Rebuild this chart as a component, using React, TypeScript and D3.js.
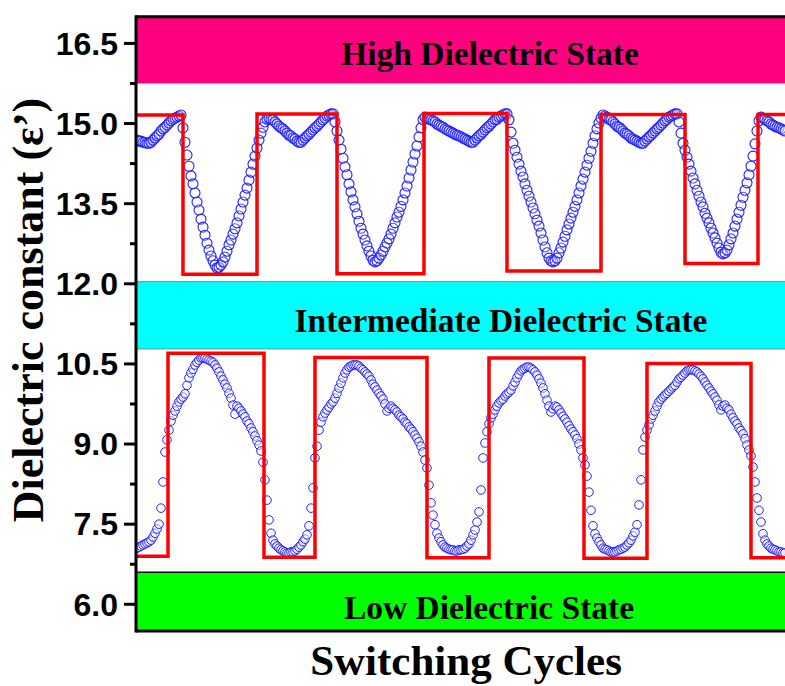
import React from 'react';
import * as d3 from 'd3';

// ---------- data ----------
const yTickValues = [6.0, 7.5, 9.0, 10.5, 12.0, 13.5, 15.0, 16.5];
const yMinorTickValues = [6.75, 8.25, 9.75, 11.25, 12.75, 14.25, 15.75];

// measured dielectric constant, uniformly sampled (sample index = time)
const highState = [
  14.69, 14.67, 14.67, 14.65, 14.65, 14.63, 14.63, 14.65, 14.69, 14.73,
  14.77, 14.80, 14.86, 14.90, 14.93, 14.97, 15.01, 15.05, 15.08, 15.10,
  15.12, 15.14, 15.16, 14.92, 14.65, 14.41, 14.20, 14.02, 13.87, 13.70,
  13.53, 13.38, 13.21, 13.06, 12.91, 12.76, 12.63, 12.52, 12.43, 12.35,
  12.30, 12.31, 12.35, 12.41, 12.50, 12.61, 12.73, 12.82, 12.93, 13.03,
  13.14, 13.27, 13.40, 13.53, 13.66, 13.79, 13.94, 14.09, 14.24, 14.39,
  14.54, 14.69, 14.82, 14.93, 15.03, 15.08, 15.10, 15.08, 15.07, 15.03,
  14.99, 14.95, 14.92, 14.90, 14.86, 14.82, 14.78, 14.77, 14.73, 14.71,
  14.67, 14.65, 14.65, 14.69, 14.73, 14.77, 14.80, 14.84, 14.88, 14.92,
  14.95, 14.99, 15.03, 15.07, 15.10, 15.14, 15.16, 15.18, 15.18, 15.03,
  14.86, 14.69, 14.52, 14.35, 14.19, 14.04, 13.87, 13.72, 13.57, 13.44,
  13.31, 13.17, 13.04, 12.93, 12.82, 12.71, 12.61, 12.52, 12.44, 12.41,
  12.43, 12.48, 12.54, 12.61, 12.69, 12.76, 12.84, 12.93, 13.04, 13.14,
  13.25, 13.34, 13.45, 13.57, 13.70, 13.83, 13.98, 14.13, 14.28, 14.43,
  14.58, 14.75, 14.92, 15.07, 15.12, 15.10, 15.08, 15.07, 15.05, 15.03,
  14.99, 14.97, 14.95, 14.93, 14.90, 14.88, 14.86, 14.84, 14.82, 14.80,
  14.78, 14.77, 14.75, 14.73, 14.71, 14.69, 14.67, 14.65, 14.65, 14.69,
  14.73, 14.77, 14.80, 14.84, 14.88, 14.92, 14.95, 14.99, 15.03, 15.07,
  15.08, 15.12, 15.14, 15.16, 15.18, 15.18, 15.07, 14.84, 14.63, 14.50,
  14.37, 14.24, 14.11, 14.00, 13.87, 13.75, 13.64, 13.53, 13.42, 13.31,
  13.19, 13.08, 12.95, 12.82, 12.69, 12.58, 12.48, 12.43, 12.41, 12.43,
  12.48, 12.58, 12.67, 12.78, 12.89, 13.01, 13.12, 13.23, 13.34, 13.45,
  13.57, 13.70, 13.83, 13.96, 14.09, 14.22, 14.35, 14.48, 14.63, 14.77,
  14.90, 15.01, 15.10, 15.16, 15.14, 15.12, 15.08, 15.07, 15.03, 14.99,
  14.95, 14.93, 14.90, 14.86, 14.82, 14.80, 14.77, 14.73, 14.71, 14.69,
  14.67, 14.65, 14.63, 14.63, 14.67, 14.71, 14.75, 14.78, 14.82, 14.86,
  14.90, 14.93, 14.97, 15.01, 15.05, 15.08, 15.12, 15.14, 15.16, 15.18,
  15.18, 15.03, 14.82, 14.63, 14.50, 14.37, 14.24, 14.11, 13.98, 13.87,
  13.75, 13.64, 13.53, 13.44, 13.32, 13.23, 13.14, 13.04, 12.95, 12.86,
  12.76, 12.67, 12.59, 12.56, 12.58, 12.63, 12.73, 12.84, 12.95, 13.08,
  13.21, 13.34, 13.47, 13.62, 13.75, 13.89, 14.04, 14.20, 14.39, 14.62,
  14.86, 15.05, 15.12, 15.10, 15.08, 15.05, 15.03, 14.99, 14.97, 14.95,
  14.93, 14.92, 14.90, 14.88, 14.86,
];

const lowState = [
  7.05, 7.07, 7.09, 7.11, 7.13, 7.15, 7.17, 7.20, 7.26, 7.33,
  7.41, 7.50, 7.80, 8.29, 8.85, 9.08, 9.26, 9.43, 9.54, 9.62,
  9.71, 9.79, 9.84, 9.88, 9.94, 10.10, 10.24, 10.33, 10.40, 10.48,
  10.53, 10.57, 10.61, 10.61, 10.61, 10.59, 10.57, 10.55, 10.53, 10.48,
  10.42, 10.35, 10.27, 10.20, 10.12, 10.05, 9.95, 9.86, 9.73, 9.56,
  9.71, 9.67, 9.62, 9.56, 9.51, 9.43, 9.38, 9.30, 9.23, 9.15,
  9.06, 8.98, 8.87, 8.66, 8.33, 7.95, 7.58, 7.33, 7.20, 7.13,
  7.09, 7.05, 7.02, 7.00, 6.98, 6.96, 6.96, 6.98, 6.98, 7.00,
  7.03, 7.07, 7.11, 7.17, 7.22, 7.30, 7.47, 7.80, 8.18, 8.74,
  8.96, 9.26, 9.41, 9.51, 9.58, 9.64, 9.69, 9.75, 9.79, 9.86,
  9.95, 10.05, 10.14, 10.24, 10.33, 10.39, 10.44, 10.46, 10.48, 10.48,
  10.48, 10.46, 10.42, 10.39, 10.35, 10.31, 10.27, 10.20, 10.12, 10.07,
  10.01, 9.95, 9.90, 9.84, 9.75, 9.62, 9.67, 9.71, 9.67, 9.64,
  9.60, 9.54, 9.51, 9.47, 9.41, 9.38, 9.32, 9.28, 9.23, 9.17,
  9.11, 9.04, 8.96, 8.85, 8.70, 8.55, 8.23, 7.90, 7.67, 7.49,
  7.33, 7.24, 7.17, 7.11, 7.07, 7.05, 7.03, 7.02, 7.02, 7.00,
  7.00, 7.02, 7.02, 7.03, 7.05, 7.09, 7.13, 7.20, 7.30, 7.39,
  7.54, 7.73, 8.14, 8.74, 9.02, 9.23, 9.38, 9.49, 9.56, 9.64,
  9.71, 9.77, 9.81, 9.84, 9.90, 9.94, 9.97, 10.01, 10.09, 10.16,
  10.24, 10.31, 10.37, 10.40, 10.42, 10.44, 10.44, 10.42, 10.39, 10.35,
  10.29, 10.22, 10.14, 10.05, 9.94, 9.82, 9.71, 9.60, 9.66, 9.71,
  9.69, 9.64, 9.58, 9.52, 9.47, 9.41, 9.34, 9.28, 9.23, 9.17,
  9.10, 9.00, 8.89, 8.74, 8.61, 8.40, 8.10, 7.76, 7.47, 7.32,
  7.24, 7.17, 7.11, 7.05, 7.03, 7.02, 7.00, 6.98, 6.98, 6.98,
  7.00, 7.02, 7.03, 7.05, 7.07, 7.11, 7.15, 7.20, 7.28, 7.35,
  7.49, 7.86, 8.33, 8.89, 9.13, 9.26, 9.36, 9.47, 9.54, 9.62,
  9.71, 9.79, 9.84, 9.88, 9.92, 9.95, 9.99, 10.03, 10.07, 10.10,
  10.16, 10.22, 10.25, 10.29, 10.33, 10.37, 10.39, 10.39, 10.39, 10.37,
  10.35, 10.31, 10.27, 10.22, 10.16, 10.10, 10.05, 9.99, 9.94, 9.88,
  9.82, 9.73, 9.64, 9.71, 9.73, 9.67, 9.64, 9.56, 9.49, 9.43,
  9.38, 9.30, 9.25, 9.19, 9.10, 8.98, 8.89, 8.78, 8.57, 8.29,
  7.99, 7.76, 7.54, 7.32, 7.20, 7.13, 7.09, 7.05, 7.03, 7.02,
  7.00, 6.98, 6.98, 6.96, 6.96,
];

// applied switching signal (square waves): edge times and levels
const highSwitchTimes = [-0.5, 23, 60, 100, 143.5, 185, 232, 274, 310.5, 326.5];
const highSwitchLevels = [15.16, 12.18, 15.18, 12.19, 15.19, 12.24, 15.17, 12.38, 15.17];
const lowSwitchTimes = [-0.5, 15.5, 63.5, 89, 145, 176, 223.5, 255, 307, 326.5];
const lowSwitchLevels = [6.9, 10.7, 6.88, 10.62, 6.87, 10.61, 6.86, 10.51, 6.87];

// state bands
const bandNames = ['High Dielectric State', 'Intermediate Dielectric State', 'Low Dielectric State'];
const bandLows = [15.75, 10.78, 5.5];
const bandHighs = [17.0, 12.04, 6.6];
const bandLabelTimes = [176.5, 182, 176];

// ---------- layout ----------
const W = 785;
const H = 686;
const LEFT = 136;
const RIGHT = 790;
const TOP = 16.7;
const BOTTOM = 631;
const bandFill = ['#FF0080', '#00FFFF', '#00FF00'];
const bandStroke = ['none', '#6f8f8f', '#111'];
const serif = "'Liberation Serif', 'Times New Roman', serif";
const sans = "'Liberation Sans', Arial, sans-serif";

function stepPoints(times: number[], levels: number[]): [number, number][] {
  const pts: [number, number][] = [];
  levels.forEach((lv, i) => {
    pts.push([times[i], lv]);
    pts.push([times[i + 1], lv]);
  });
  return pts;
}

export default function App() {
  const x = d3.scaleLinear().domain([-0.5, 326.5]).range([LEFT, RIGHT]);
  const y = d3.scaleLinear().domain([5.5, 17]).range([BOTTOM, TOP]);
  const line = d3
    .line<[number, number]>()
    .x((d) => x(d[0]))
    .y((d) => y(d[1]));

  const highPath = line(stepPoints(highSwitchTimes, highSwitchLevels)) || '';
  const lowPath = line(stepPoints(lowSwitchTimes, lowSwitchLevels)) || '';

  return (
    <svg
      width={W}
      height={H}
      viewBox={`0 0 ${W} ${H}`}
      style={{ position: 'absolute', left: 0, top: 0, background: '#fff', display: 'block' }}
    >
      <defs>
        <clipPath id="plotClip">
          <rect x={LEFT} y={TOP} width={RIGHT - LEFT} height={BOTTOM - TOP} />
        </clipPath>
      </defs>

      {/* bands */}
      {bandNames.map((name, i) => (
        <rect
          key={name}
          x={LEFT}
          y={y(bandHighs[i])}
          width={RIGHT - LEFT}
          height={y(bandLows[i]) - y(bandHighs[i])}
          fill={bandFill[i]}
          stroke={bandStroke[i]}
          strokeWidth={i === 2 ? 1.5 : 1}
        />
      ))}

      {/* band labels */}
      {bandNames.map((name, i) => (
        <text
          key={'l' + name}
          x={x(bandLabelTimes[i])}
          y={(y(bandHighs[i]) + y(bandLows[i])) / 2 + (i === 0 ? 15 : 17)}
          textAnchor="middle"
          fontFamily={serif}
          fontWeight="bold"
          fontSize={33.5}
          fill="#000"
        >
          {name}
        </text>
      ))}

      {/* measured data */}
      <g clipPath="url(#plotClip)">
        {highState.map((v, i) => (
          <circle
            key={'h' + i}
            cx={x(i)}
            cy={y(v)}
            r={5}
            fill="#fff"
            fillOpacity={0.2}
            stroke="#1e1eff"
            strokeWidth={1.1}
          />
        ))}
        {lowState.map((v, i) => (
          <circle
            key={'w' + i}
            cx={x(i)}
            cy={y(v)}
            r={4.3}
            fill="#fff"
            fillOpacity={0.45}
            stroke="#2222ff"
            strokeWidth={1}
          />
        ))}
        <path d={highPath} fill="none" stroke="#FF0000" strokeWidth={3.5} strokeLinejoin="miter" />
        <path d={lowPath} fill="none" stroke="#FF0000" strokeWidth={3.5} strokeLinejoin="miter" />
      </g>

      {/* frame */}
      <line x1={LEFT} x2={RIGHT} y1={TOP} y2={TOP} stroke="#000" strokeWidth={3} />
      <line x1={LEFT} x2={RIGHT} y1={BOTTOM} y2={BOTTOM} stroke="#000" strokeWidth={3} />
      <line x1={LEFT} x2={LEFT} y1={TOP - 1.5} y2={BOTTOM + 1.5} stroke="#000" strokeWidth={3} />

      {/* y ticks */}
      {yTickValues.map((t) => (
        <g key={'t' + t}>
          <line x1={LEFT - 12} x2={LEFT} y1={y(t)} y2={y(t)} stroke="#000" strokeWidth={3} />
          <text
            x={118}
            y={y(t) + 11.3}
            textAnchor="end"
            fontFamily={sans}
            fontWeight="bold"
            fontSize={32}
            fill="#000"
          >
            {t.toFixed(1)}
          </text>
        </g>
      ))}
      {yMinorTickValues.map((t) => (
        <line key={'m' + t} x1={LEFT - 6} x2={LEFT} y1={y(t)} y2={y(t)} stroke="#000" strokeWidth={3} />
      ))}

      {/* axis titles */}
      <text
        transform={`translate(43, 310) rotate(-90)`}
        textAnchor="middle"
        fontFamily={serif}
        fontWeight="bold"
        fontSize={44}
        fill="#000"
      >
        Dielectric constant (ε’)
      </text>
      <text
        x={466}
        y={675}
        textAnchor="middle"
        fontFamily={serif}
        fontWeight="bold"
        fontSize={43}
        fill="#000"
      >
        Switching Cycles
      </text>
    </svg>
  );
}
